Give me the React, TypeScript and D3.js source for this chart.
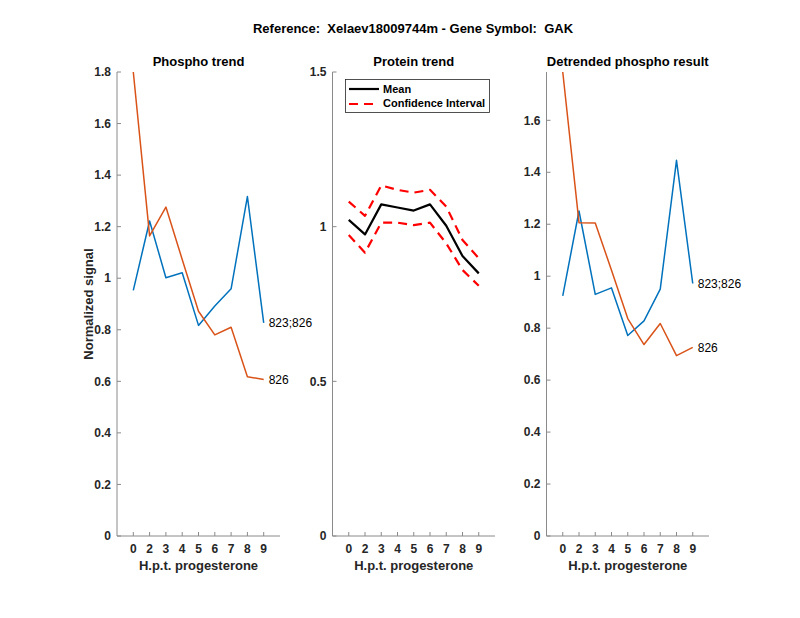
import React, { useEffect, useRef } from 'react';
import * as d3 from 'd3';

// time point labels (h.p.t. progesterone)
const timeLabels = ['0', '2', '3', '4', '5', '6', '7', '8', '9'];

// phospho trend
const phosphoBlue = [0.953, 1.222, 1.002, 1.021, 0.817, 0.892, 0.959, 1.317, 0.827];
const phosphoOrange = [1.8, 1.164, 1.276, 1.073, 0.872, 0.78, 0.81, 0.618, 0.607];

// protein trend
const proteinMean = [1.022, 0.975, 1.072, 1.062, 1.052, 1.072, 1.003, 0.905, 0.849];
const proteinUpper = [1.081, 1.035, 1.133, 1.119, 1.11, 1.119, 1.065, 0.957, 0.898];
const proteinLower = [0.973, 0.916, 1.013, 1.013, 1.005, 1.013, 0.946, 0.86, 0.809];

// detrended phospho
const detrendBlue = [0.924, 1.251, 0.93, 0.955, 0.772, 0.828, 0.95, 1.446, 0.972];
const detrendOrange = [1.786, 1.206, 1.205, 1.023, 0.837, 0.737, 0.818, 0.694, 0.726];

const seriesLabels = ['823;826', '826'];
const legendLabels = ['Mean', 'Confidence Interval'];

const BLUE = '#0072BD';
const ORANGE = '#D95319';
const FONT = '"Liberation Sans", Arial, Helvetica, sans-serif';
const AXIS_COLOR = '#8a8a8a';
const TEXT_COLOR = '#262626';
const DASH = '9,6';

const App: React.FC = () => {
  const svgRef = useRef<SVGSVGElement>(null);

  useEffect(() => {
    document.body.style.margin = '0';
    if (!svgRef.current) return;
    const width = 800;
    const height = 618;
    const svg = d3.select(svgRef.current);
    svg.selectAll('*').remove();
    svg.attr('width', width).attr('height', height).style('display', 'block');

    svg.append('rect').attr('width', width).attr('height', height).attr('fill', 'white');

    svg.append('text')
      .attr('x', 413)
      .attr('y', 33)
      .attr('text-anchor', 'middle')
      .attr('font-family', FONT)
      .attr('font-weight', 'bold')
      .attr('font-size', '13px')
      .attr('fill', 'black')
      .style('white-space', 'pre')
      .text('Reference:  Xelaev18009744m - Gene Symbol:  GAK');

    const top = 72;
    const bottom = 536;

    const fmt = (v: number) => (Math.abs(v) < 1e-6 ? '0' : Math.abs(v - 1) < 1e-6 ? '1' : d3.format('.1f')(v));

    const drawPanel = (left: number, right: number, yMax: number, yTicks: number[], title: string) => {
      const g = svg.append('g');
      const x = d3.scaleLinear().domain([0, 10]).range([left, right]);
      const y = d3.scaleLinear().domain([0, yMax]).range([bottom, top]);

      // axis lines
      g.append('line')
        .attr('x1', left).attr('x2', left).attr('y1', top).attr('y2', bottom)
        .attr('stroke', AXIS_COLOR).attr('stroke-width', 1);
      g.append('line')
        .attr('x1', left).attr('x2', right).attr('y1', bottom).attr('y2', bottom)
        .attr('stroke', AXIS_COLOR).attr('stroke-width', 1);

      // y ticks
      yTicks.forEach((t) => {
        g.append('line')
          .attr('x1', left).attr('x2', left + 4)
          .attr('y1', y(t)).attr('y2', y(t))
          .attr('stroke', AXIS_COLOR);
        g.append('text')
          .attr('x', left - 6)
          .attr('y', y(t))
          .attr('dy', '0.35em')
          .attr('text-anchor', 'end')
          .attr('font-family', FONT)
          .attr('font-weight', 'bold')
          .attr('font-size', '12px')
          .attr('fill', TEXT_COLOR)
          .text(fmt(t));
      });

      // x ticks
      timeLabels.forEach((lab, i) => {
        g.append('line')
          .attr('x1', x(i + 1)).attr('x2', x(i + 1))
          .attr('y1', bottom).attr('y2', bottom - 4)
          .attr('stroke', AXIS_COLOR);
        g.append('text')
          .attr('x', x(i + 1))
          .attr('y', bottom + 17)
          .attr('text-anchor', 'middle')
          .attr('font-family', FONT)
          .attr('font-weight', 'bold')
          .attr('font-size', '12px')
          .attr('fill', TEXT_COLOR)
          .text(lab);
      });

      g.append('text')
        .attr('x', (left + right) / 2)
        .attr('y', bottom + 34)
        .attr('text-anchor', 'middle')
        .attr('font-family', FONT)
        .attr('font-weight', 'bold')
        .attr('font-size', '13px')
        .attr('fill', TEXT_COLOR)
        .text('H.p.t. progesterone');

      g.append('text')
        .attr('x', (left + right) / 2)
        .attr('y', 66)
        .attr('text-anchor', 'middle')
        .attr('font-family', FONT)
        .attr('font-weight', 'bold')
        .attr('font-size', '13px')
        .attr('fill', 'black')
        .text(title);

      return { g, x, y };
    };

    const addLine = (
      g: d3.Selection<SVGGElement, unknown, null, undefined>,
      x: d3.ScaleLinear<number, number>,
      y: d3.ScaleLinear<number, number>,
      data: number[],
      color: string,
      w: number,
      dash?: string
    ) => {
      const line = d3.line<number>().x((_, i) => x(i + 1)).y((d) => y(d));
      const p = g.append('path')
        .attr('d', line(data)!)
        .attr('fill', 'none')
        .attr('stroke', color)
        .attr('stroke-width', w)
        .attr('stroke-linejoin', 'round');
      if (dash) p.attr('stroke-dasharray', dash);
    };

    const addEndLabel = (
      g: d3.Selection<SVGGElement, unknown, null, undefined>,
      x: d3.ScaleLinear<number, number>,
      y: d3.ScaleLinear<number, number>,
      data: number[],
      text: string
    ) => {
      g.append('text')
        .attr('x', x(data.length) + 5)
        .attr('y', y(data[data.length - 1]))
        .attr('dy', '0.35em')
        .attr('font-family', FONT)
        .attr('font-size', '12px')
        .attr('fill', 'black')
        .text(text);
    };

    // Panel 1
    const p1 = drawPanel(117, 280, 1.8, d3.range(0, 1.81, 0.2), 'Phospho trend');
    addLine(p1.g, p1.x, p1.y, phosphoBlue, BLUE, 1.5);
    addLine(p1.g, p1.x, p1.y, phosphoOrange, ORANGE, 1.5);
    addEndLabel(p1.g, p1.x, p1.y, phosphoBlue, seriesLabels[0]);
    addEndLabel(p1.g, p1.x, p1.y, phosphoOrange, seriesLabels[1]);

    svg.append('text')
      .attr('transform', `translate(93,${(top + bottom) / 2}) rotate(-90)`)
      .attr('text-anchor', 'middle')
      .attr('font-family', FONT)
      .attr('font-weight', 'bold')
      .attr('font-size', '13px')
      .attr('fill', TEXT_COLOR)
      .text('Normalized signal');

    // Panel 2
    const p2 = drawPanel(332.5, 495, 1.5, [0, 0.5, 1, 1.5], 'Protein trend');
    addLine(p2.g, p2.x, p2.y, proteinUpper, 'red', 2.2, DASH);
    addLine(p2.g, p2.x, p2.y, proteinLower, 'red', 2.2, DASH);
    addLine(p2.g, p2.x, p2.y, proteinMean, 'black', 2.2);

    // legend
    const lg = svg.append('g');
    lg.append('rect')
      .attr('x', 345.5).attr('y', 79.5).attr('width', 144).attr('height', 33)
      .attr('fill', 'white').attr('stroke', '#262626').attr('stroke-width', 0.8);
    lg.append('line')
      .attr('x1', 349).attr('x2', 379).attr('y1', 89).attr('y2', 89)
      .attr('stroke', 'black').attr('stroke-width', 2.2);
    lg.append('line')
      .attr('x1', 349).attr('x2', 379).attr('y1', 104).attr('y2', 104)
      .attr('stroke', 'red').attr('stroke-width', 2.2).attr('stroke-dasharray', DASH);
    legendLabels.forEach((t, i) => {
      lg.append('text')
        .attr('x', 383).attr('y', 89 + i * 14.5).attr('dy', '0.35em')
        .attr('font-family', FONT).attr('font-weight', 'bold').attr('font-size', '11px')
        .attr('fill', 'black')
        .text(t);
    });

    // Panel 3
    const p3 = drawPanel(546.5, 709, 1.786, d3.range(0, 1.61, 0.2), 'Detrended phospho result');
    addLine(p3.g, p3.x, p3.y, detrendBlue, BLUE, 1.5);
    addLine(p3.g, p3.x, p3.y, detrendOrange, ORANGE, 1.5);
    addEndLabel(p3.g, p3.x, p3.y, detrendBlue, seriesLabels[0]);
    addEndLabel(p3.g, p3.x, p3.y, detrendOrange, seriesLabels[1]);
  }, []);

  return <svg ref={svgRef}></svg>;
};

export default App;
